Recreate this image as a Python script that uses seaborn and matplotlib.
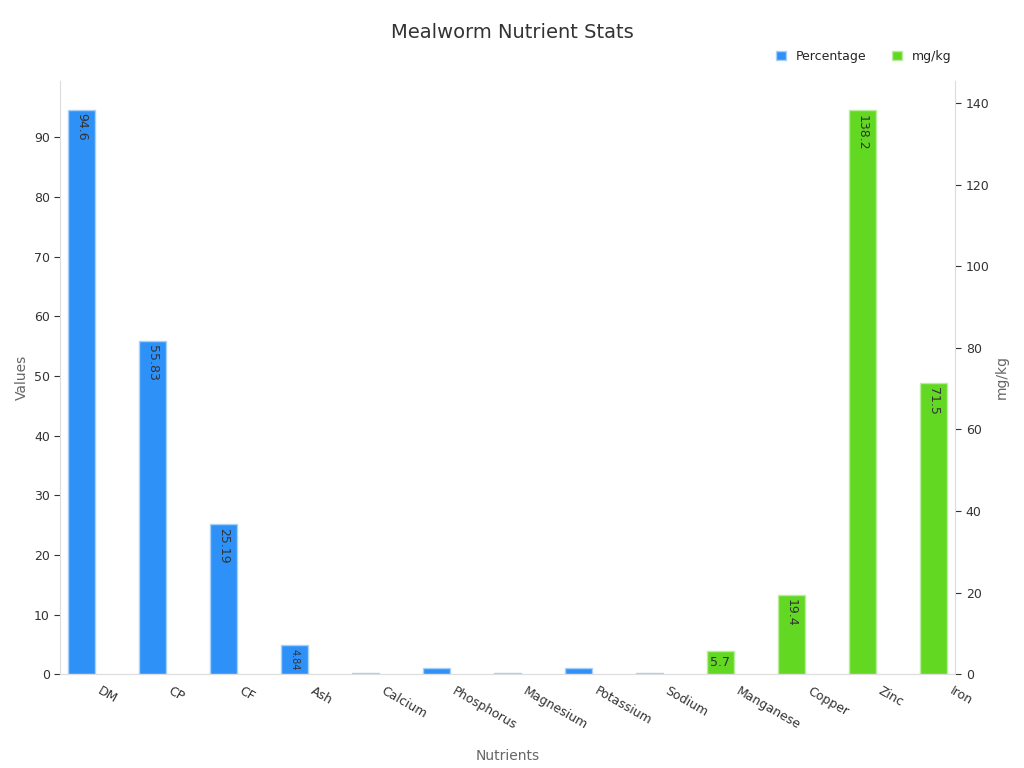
import numpy as np
import seaborn as sns
import matplotlib.pyplot as plt

nutrients = ["DM", "CP", "CF", "Ash", "Calcium", "Phosphorus", "Magnesium",
             "Potassium", "Sodium", "Manganese", "Copper", "Zinc", "Iron"]
pct_names = ["DM", "CP", "CF", "Ash", "Calcium", "Phosphorus", "Magnesium", "Potassium", "Sodium"]
pct_values = [94.6, 55.83, 25.19, 4.84, 0.15, 1.0, 0.3, 1.1, 0.15]
pct_labels = ["94.6", "55.83", "25.19", "4.84", "", "", "", "", ""]
mg_names = ["Manganese", "Copper", "Zinc", "Iron"]
mg_values = [5.7, 19.4, 138.2, 71.5]

sns.set_style("white")
fig, ax = plt.subplots(figsize=(10.24, 7.68), dpi=100)
ax2 = ax.twinx()
blue, green = "#2e91f7", "#63d823"
w = 0.38
xp = np.array([nutrients.index(n) for n in pct_names]) - w / 2
xm = np.array([nutrients.index(n) for n in mg_names]) - w / 2
b1 = ax.bar(xp, pct_values, width=w, color=blue, edgecolor="#a8d0f8", lw=1, label="Percentage")
b2 = ax2.bar(xm, mg_values, width=w, color=green, edgecolor="#b9ec9c", lw=1, label="mg/kg")
for r, t in zip(b1, pct_labels):
    if t:
        fs = 7 if r.get_height() < 10 else 9
        ax.text(r.get_x() + r.get_width() / 2, r.get_height() - 0.6, t, rotation=-90,
                ha="center", va="top", fontsize=fs, color="#333333")
for r, v in zip(b2, mg_values):
    rot = 0 if v < 10 else -90
    ax2.text(r.get_x() + r.get_width() / 2, v - 1 if rot else v / 2, f"{v}", rotation=rot,
             ha="center", va="top" if rot else "center", fontsize=9, color="#333333")

ax.set_xlim(-0.49, 12.12)
ax.set_ylim(0, 99.5)
ax2.set_ylim(0, 145.5)
ax.set_xticks(range(len(nutrients)))
ax.set_xticklabels(nutrients, rotation=-30, ha="left", fontsize=9, color="#333333")
ax.set_yticks(range(0, 100, 10))
ax2.set_yticks(range(0, 141, 20))
for a in (ax, ax2):
    a.tick_params(labelsize=9, colors="#333333", length=4)
    for s in a.spines.values():
        s.set_color("#dddddd")
    a.spines["top"].set_visible(False)
ax.tick_params(axis="x", colors="#888888", labelcolor="#333333")
ax.set_xlabel("Nutrients", fontsize=10, color="#666666", labelpad=12)
ax.set_ylabel("Values", fontsize=10, color="#666666")
ax2.set_ylabel("mg/kg", fontsize=10, color="#666666")
fig.suptitle("Mealworm Nutrient Stats", fontsize=14, color="#333333", y=0.97)
fig.legend(handles=[b1, b2], loc="upper right", bbox_to_anchor=(0.94, 0.95), ncol=2,
           frameon=False, fontsize=9, handlelength=0.8, handleheight=0.8, columnspacing=2)
fig.subplots_adjust(left=0.059, right=0.933, top=0.895, bottom=0.122)
fig.savefig("out.png")
